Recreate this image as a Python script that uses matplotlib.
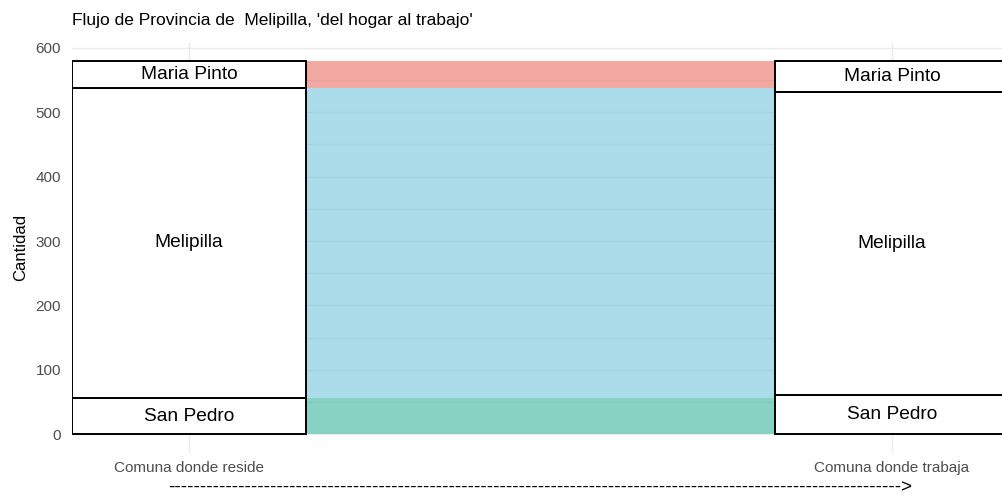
import numpy as np
import matplotlib
matplotlib.use("Agg")
import matplotlib.pyplot as plt

plt.rcParams['font.family'] = ['Liberation Sans', 'DejaVu Sans']

# comunas, stacked bottom to top
comunas = ["San Pedro", "Melipilla", "Maria Pinto"]
reside = [56, 482, 42]     # Comuna donde reside
trabaja = [61, 471, 48]    # Comuna donde trabaja
flow_colors = ["#82D0C1", "#A6DCE8", "#F1A59C"]

ejes = ["Comuna donde reside", "Comuna donde trabaja"]
yticks = [0, 100, 200, 300, 400, 500, 600]

fig = plt.figure(figsize=(10.02, 4.98), dpi=100)
ax = fig.add_axes([72 / 1002, 1 - 453 / 498, 1 - 72 / 1002, (453 - 42) / 498])

w = 1 / 3
bot_l = np.concatenate([[0], np.cumsum(reside)[:-1]])
bot_r = np.concatenate([[0], np.cumsum(trabaja)[:-1]])

# grid
for v in yticks:
    ax.axhline(v, color="#EBEBEB", lw=1.0, zorder=0)
for v in np.arange(50, 600, 100):
    ax.axhline(v, color="#EBEBEB", lw=0.6, zorder=0)
for v in [1, 2]:
    ax.axvline(v, color="#EBEBEB", lw=1.0, zorder=0)

# flows (straight bands from the left stratum)
ax.bar(1.5, reside, bottom=bot_l, width=1 - w, color=flow_colors,
       alpha=0.95, linewidth=0, zorder=1)
for v in np.arange(50, 600, 50):
    ax.hlines(v, 1 + w / 2, 2 - w / 2, color="black", alpha=0.03, lw=1.0, zorder=2)

# strata
ax.bar(1, reside, bottom=bot_l, width=w, color="white", edgecolor="black",
       linewidth=1.4, zorder=3)
ax.bar(2, trabaja, bottom=bot_r, width=w, color="white", edgecolor="black",
       linewidth=1.4, zorder=3)

for name, b, h in zip(comunas, bot_l, reside):
    ax.text(1, b + h / 2, name, ha="center", va="center", fontsize=13.8, zorder=4)
for name, b, h in zip(comunas, bot_r, trabaja):
    ax.text(2, b + h / 2, name, ha="center", va="center", fontsize=13.8, zorder=4)

ax.set_xlim(1 - 1 / 6, 1 + (1002 - 189) / 703)
ax.set_ylim(-29, 609)
ax.set_yticks(yticks)
ax.set_xticks([1, 2])
ax.set_xticklabels(ejes)
ax.tick_params(axis="both", length=0, labelsize=11, labelcolor="#4D4D4D")
ax.tick_params(axis="x", pad=6)
ax.tick_params(axis="y", pad=8)
for s in ax.spines.values():
    s.set_visible(False)

ax.set_ylabel("Cantidad", fontsize=12, labelpad=5)
fig.text(540 / 1002, 1 - 488 / 498, "-" * 115 + ">", ha="center", va="center",
         fontsize=13.5)
fig.text(72 / 1002, 1 - 20 / 498, "Flujo de Provincia de  Melipilla, 'del hogar al trabajo'",
         ha="left", va="center", fontsize=12.5)

fig.savefig("out.png", dpi=100)
